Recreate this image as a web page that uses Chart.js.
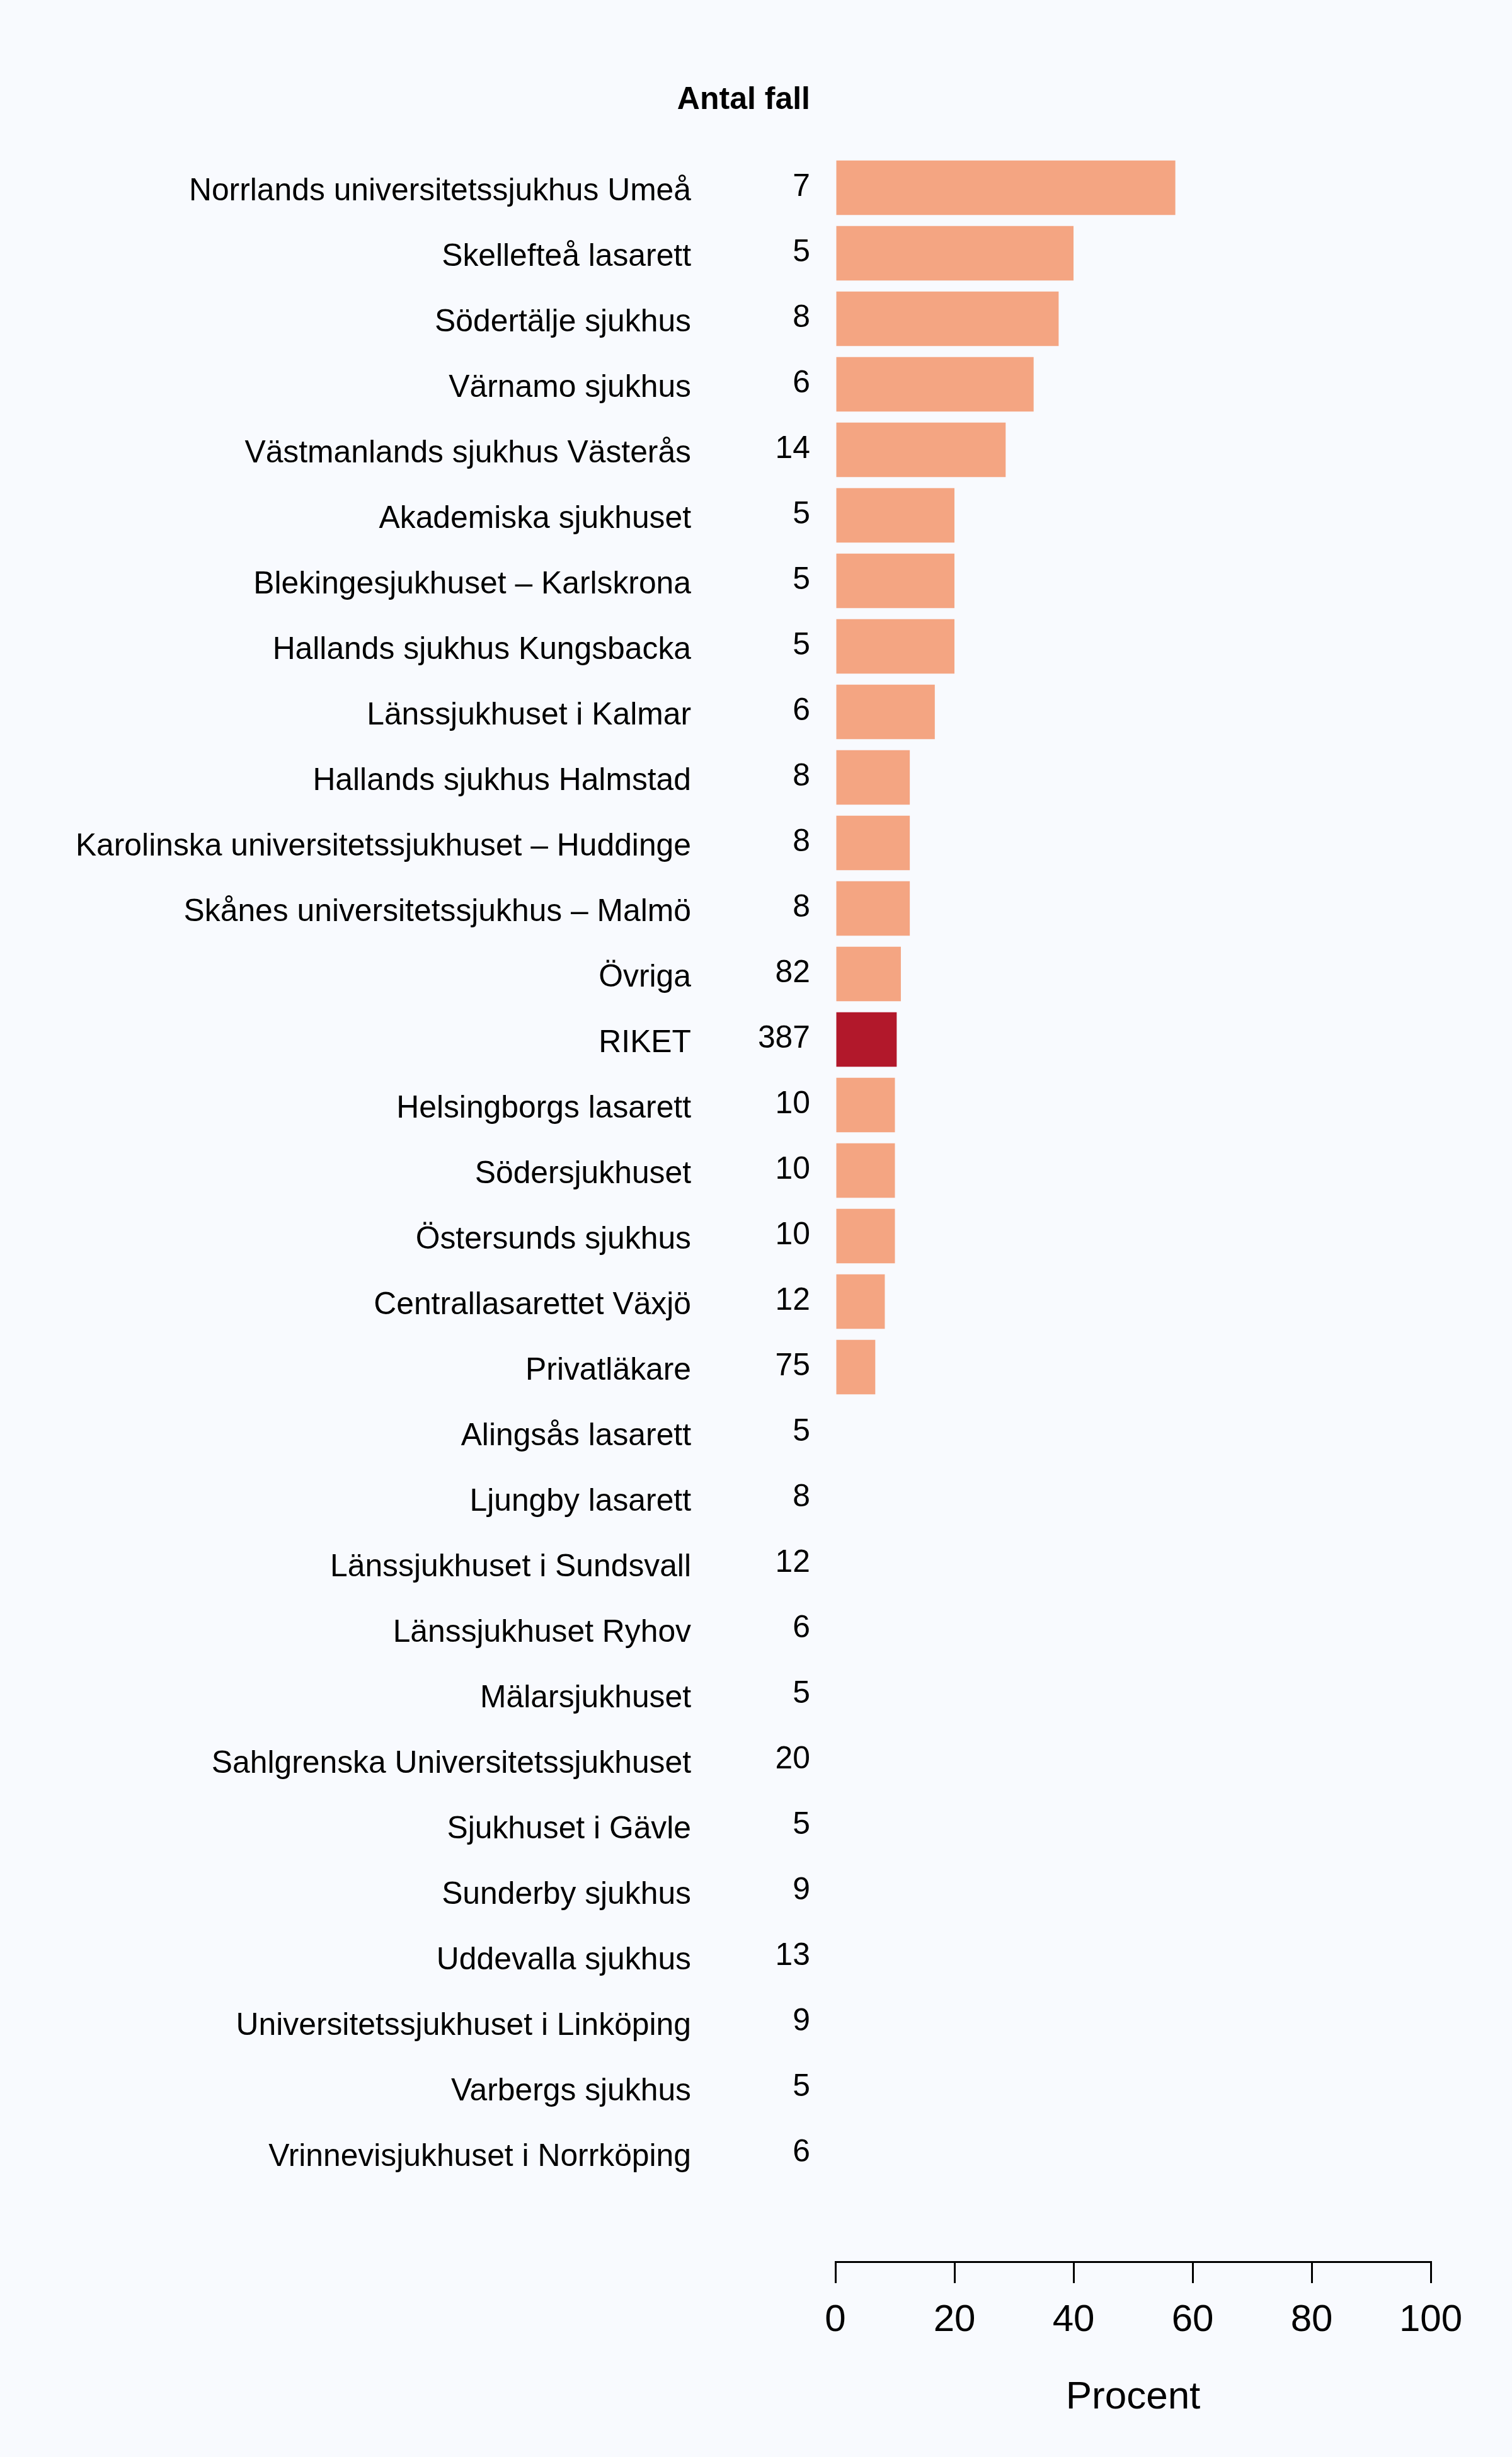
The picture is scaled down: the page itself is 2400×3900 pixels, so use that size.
<!DOCTYPE html>
<html>
<head>
<meta charset="utf-8">
<script src="https://cdn.jsdelivr.net/npm/chart.js@4.4.1/dist/chart.umd.min.js"></script>
<style>
  html, body { margin: 0; padding: 0; background: #f8fafe; }
  #wrap { width: 2400px; height: 3900px; position: relative; }
</style>
</head>
<body>
<div id="wrap"><canvas id="chart"></canvas></div>
<script>
const hospitals = [
  'Norrlands universitetssjukhus Umeå', 'Skellefteå lasarett', 'Södertälje sjukhus',
  'Värnamo sjukhus', 'Västmanlands sjukhus Västerås', 'Akademiska sjukhuset',
  'Blekingesjukhuset – Karlskrona', 'Hallands sjukhus Kungsbacka', 'Länssjukhuset i Kalmar',
  'Hallands sjukhus Halmstad', 'Karolinska universitetssjukhuset – Huddinge',
  'Skånes universitetssjukhus – Malmö', 'Övriga', 'RIKET', 'Helsingborgs lasarett',
  'Södersjukhuset', 'Östersunds sjukhus', 'Centrallasarettet Växjö', 'Privatläkare',
  'Alingsås lasarett', 'Ljungby lasarett', 'Länssjukhuset i Sundsvall', 'Länssjukhuset Ryhov',
  'Mälarsjukhuset', 'Sahlgrenska Universitetssjukhuset', 'Sjukhuset i Gävle', 'Sunderby sjukhus',
  'Uddevalla sjukhus', 'Universitetssjukhuset i Linköping', 'Varbergs sjukhus',
  'Vrinnevisjukhuset i Norrköping'
];
const antalFall = [7, 5, 8, 6, 14, 5, 5, 5, 6, 8, 8, 8, 82, 387, 10, 10, 10, 12, 75,
  5, 8, 12, 6, 5, 20, 5, 9, 13, 9, 5, 6];
const procent = [57.1, 40.0, 37.5, 33.3, 28.6, 20.0, 20.0, 20.0, 16.7, 12.5, 12.5, 12.5,
  11.0, 10.3, 10.0, 10.0, 10.0, 8.3, 6.7, 0, 0, 0, 0, 0, 0, 0, 0, 0, 0, 0, 0];
const xTicks = [0, 20, 40, 60, 80, 100];

const font = 'Liberation Sans, Arial, Helvetica, sans-serif';
const barColor = '#f4a582';
const riketColor = '#b2182b';

// counts column + "Antal fall" header
const countsPlugin = {
  id: 'counts',
  afterDraw(chart) {
    const { ctx, chartArea, scales } = chart;
    const x = chartArea.left - 40;
    ctx.save();
    ctx.fillStyle = '#000';
    ctx.textAlign = 'right';
    ctx.textBaseline = 'middle';
    ctx.font = `bold 50px ${font}`;
    ctx.fillText('Antal fall', x, 159);
    ctx.font = `49.8px ${font}`;
    antalFall.forEach((n, i) => {
      ctx.fillText(String(n), x, scales.y.getPixelForValue(i) - 1);
    });
    ctx.restore();
  }
};

new Chart(document.getElementById('chart'), {
  type: 'bar',
  data: {
    labels: hospitals,
    datasets: [{
      data: procent,
      backgroundColor: hospitals.map(h => h === 'RIKET' ? riketColor : barColor),
      borderWidth: 0,
      categoryPercentage: 1,
      barPercentage: 0.833
    }]
  },
  options: {
    indexAxis: 'y',
    responsive: true,
    maintainAspectRatio: false,
    animation: false,
    layout: { padding: { top: 246, bottom: 430, left: 0, right: 129 } },
    plugins: {
      legend: { display: false },
      tooltip: { enabled: false }
    },
    scales: {
      y: {
        type: 'category',
        offset: true,
        // hidden tick marks give the label gap without padding the chart area
        grid: { display: false, drawTicks: true, tickLength: 229 },
        border: { display: false },
        ticks: { color: '#000', font: { family: font, size: 49.8 }, padding: 0, labelOffset: 6, autoSkip: false },
        afterFit: s => { s.width = 1326; }
      },
      x: {
        type: 'linear',
        position: { y: 31.66 },
        min: 0,
        max: 100,
        afterBuildTicks: s => { s.ticks = xTicks.map(v => ({ value: v })); },
        grid: { drawOnChartArea: false, drawTicks: true, tickLength: 32, color: '#000', lineWidth: 3 },
        border: { display: true, color: '#000', width: 3 },
        ticks: { color: '#000', font: { family: font, size: 60 }, padding: 25, maxRotation: 0 },
        title: { display: true, text: 'Procent', color: '#000', font: { family: font, size: 62 }, padding: { top: 24, bottom: 0 } }
      }
    }
  },
  plugins: [countsPlugin]
});
</script>
</body>
</html>
